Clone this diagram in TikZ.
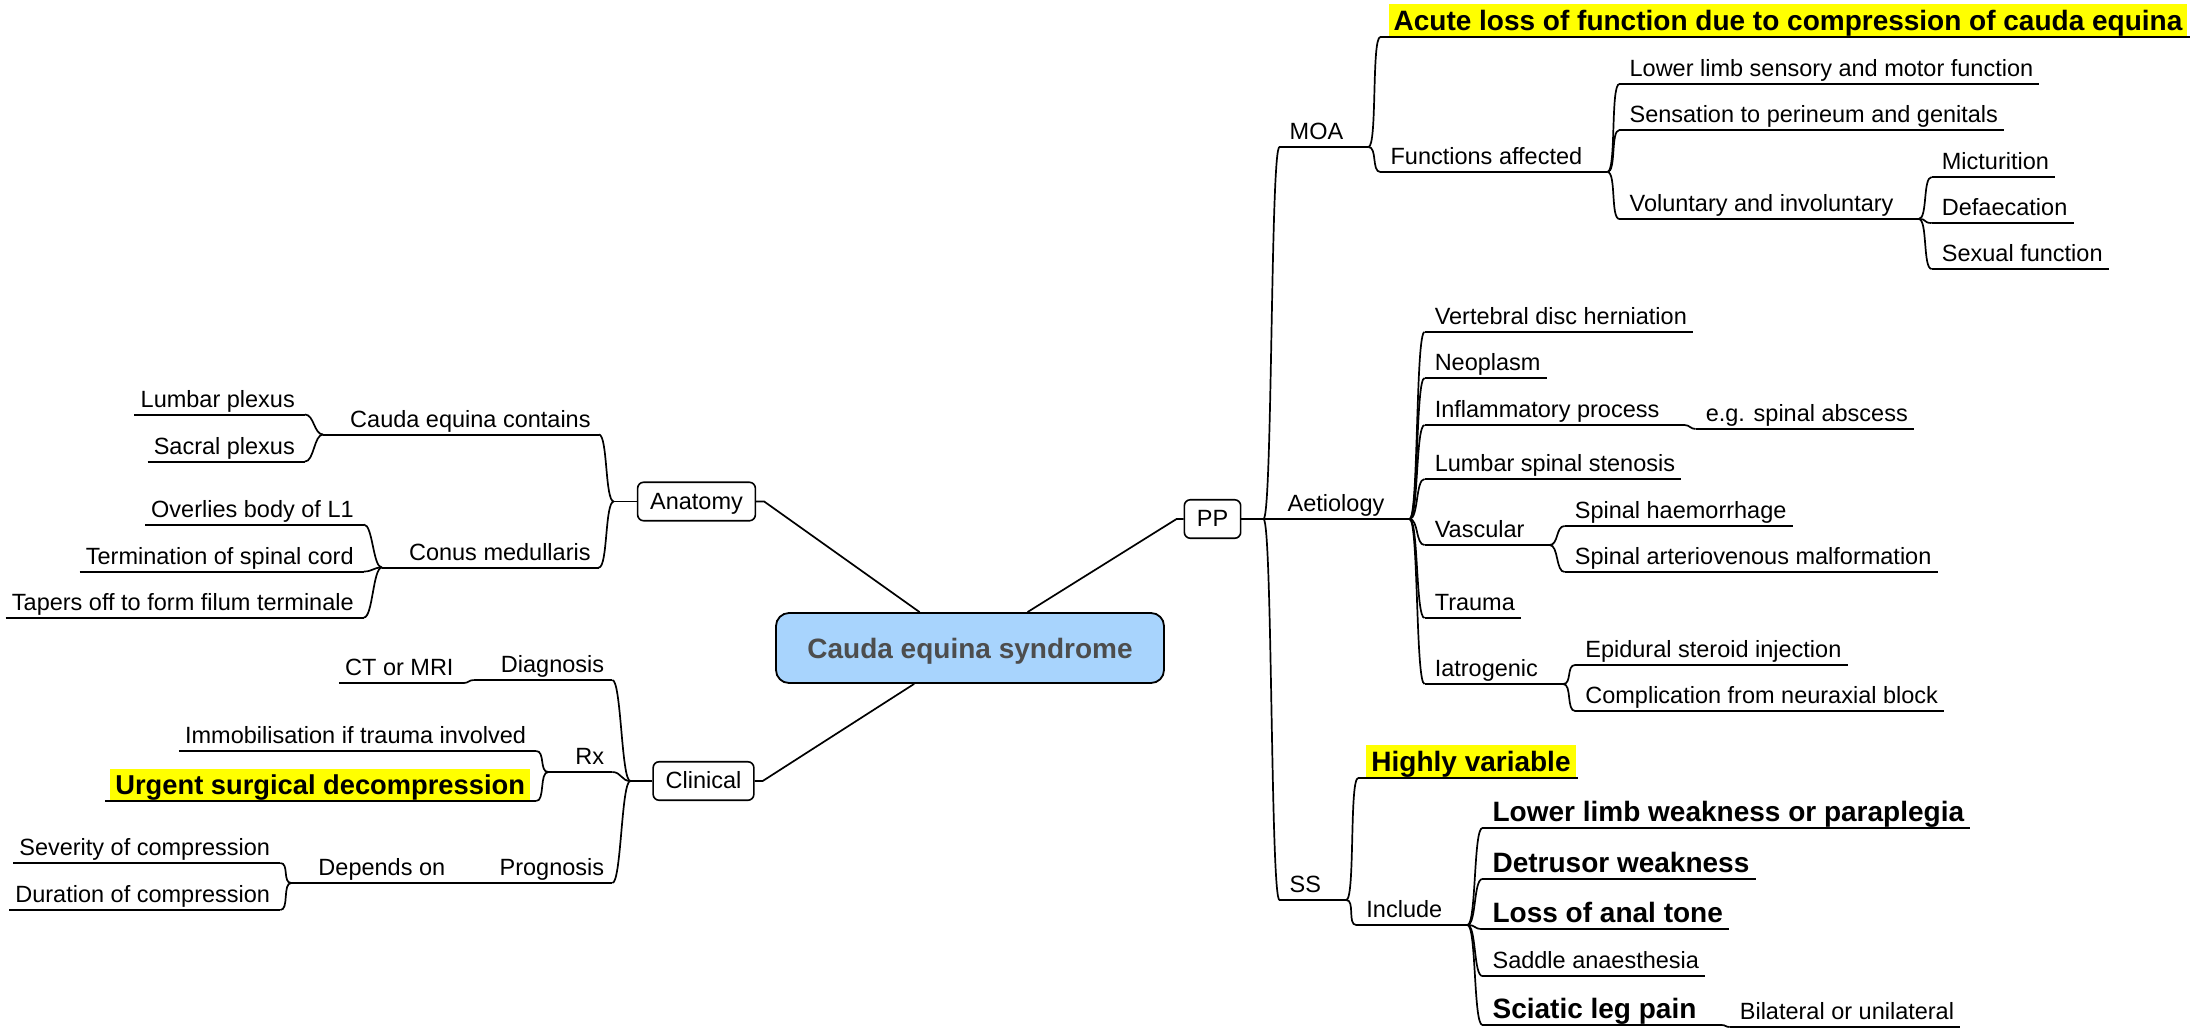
\documentclass[tikz,border=0pt]{standalone}
\usepackage{fontspec}
\setmainfont{Liberation Sans}
\usetikzlibrary{calc}
\definecolor{rootfill}{HTML}{A8D4FD}
\definecolor{roottext}{HTML}{4D4D4D}
\definecolor{hlyellow}{HTML}{FFFF00}
% yellow marker behind a label
\newcommand\hlbox[1]{{\setlength{\fboxsep}{0pt}\colorbox{hlyellow}{\hspace*{5pt}\rule[-0.2em]{0pt}{1.13em}#1\hspace*{5pt}}}}
\tikzset{
  lbl/.style={inner sep=0pt, font=\fontsize{23.5pt}{28pt}\selectfont, text height=17pt, text depth=7pt},
  big/.style={font=\fontsize{28pt}{33pt}\selectfont\bfseries, text height=20.5pt, text depth=6.5pt},
  rleaf/.style={lbl, anchor=south west, execute at begin node=\hspace*{10pt}, execute at end node=\hspace*{6pt}},
  rpar/.style={lbl, anchor=south west, execute at begin node=\hspace*{10pt}, execute at end node=\hspace*{25pt}},
  rhl/.style={lbl, big, anchor=south west, execute at begin node=\hspace*{8pt}, execute at end node=\hspace*{2pt}},
  lleaf/.style={lbl, anchor=south east, execute at begin node=\hspace*{6pt}, execute at end node=\hspace*{10pt}},
  lpar/.style={lbl, anchor=south east, execute at begin node=\hspace*{27pt}, execute at end node=\hspace*{8pt}},
  lhl/.style={lbl, big, font=\fontsize{27.3pt}{33pt}\selectfont\bfseries, anchor=south east,
    execute at begin node=\hspace*{5pt}, execute at end node=\hspace*{6pt}},
  box/.style={draw, fill=white, rounded corners=6pt, line width=1.6pt, inner xsep=12.5pt, inner ysep=0pt,
    minimum height=38.5pt, font=\fontsize{23.5pt}{28pt}\selectfont, text height=17pt, text depth=2pt},
  rootbox/.style={draw, fill=rootfill, rounded corners=13pt, line width=1.8pt, minimum width=388pt,
    minimum height=70pt, inner sep=0pt, font=\fontsize{28pt}{33pt}\selectfont\bfseries, text=roottext,
    text height=20pt, text depth=0pt},
  conn/.style={line width=1.7pt},
  uline/.style={line width=2pt},
  rc/.style={out=0, in=180, distance=#1}, rc/.default=9pt,
  lc/.style={out=180, in=0, distance=#1}, lc/.default=9pt,
}
\begin{document}
\begin{tikzpicture}[x=1pt, y=-1pt]
\useasboundingbox (0,0) rectangle (2193,1029);

% central topic and the three main boxes
\node[rootbox] (root) at (970,648) {Cauda equina syndrome};
\node[box] (anat) at (696.5,501.5) {Anatomy};
\node[box] (clin) at (703.5,781) {Clinical};
\node[box] (pp) at (1212.5,519) {PP};

\coordinate (ka) at ($(anat.east)+(8,0)$);
\coordinate (kc) at ($(clin.east)+(8,0)$);
\coordinate (kp) at ($(pp.west)+(-7,0)$);
\draw[conn] (root) -- (ka) -- (anat.east);
\draw[conn] (root) -- (kc) -- (clin.east);
\draw[conn] (root) -- (kp) -- (pp.west);

% ---------- PP ----------
\coordinate (jp) at ($(pp.east)+(22,0)$);
\node[rpar] (aet) at ($(jp)+(14,0)$) {Aetiology};
\node[rpar] (moa) at ($(jp)+(16,-372)$) {MOA};
\node[rpar] (ss) at ($(jp)+(16,381)$) {SS};

% MOA
\node[rhl] (acute) at ($(moa.south east)+(12,-110)$) {\hlbox{Acute loss of function due to compression of cauda equina}};
\node[rpar] (fa) at ($(moa.south east)+(12,25)$) {Functions affected};
\node[rleaf] (llsm) at ($(fa.south east)+(12,-88)$) {Lower limb sensory and motor function};
\node[rleaf] (sens) at ($(fa.south east)+(12,-42)$) {Sensation to perineum and genitals};
\node[rpar] (vol) at ($(fa.south east)+(12,47)$) {Voluntary and involuntary};
\node[rleaf] (mict) at ($(vol.south east)+(13,-42)$) {Micturition};
\node[rleaf] (defa) at ($(vol.south east)+(13,4)$) {Defaecation};
\node[rleaf] (sexf) at ($(vol.south east)+(13,50)$) {Sexual function};

% Aetiology
\node[rleaf] (vdh) at ($(aet.south east)+(15,-187)$) {Vertebral disc herniation};
\node[rleaf] (neo) at ($(aet.south east)+(15,-141)$) {Neoplasm};
\node[rpar] (infl) at ($(aet.south east)+(15,-94)$) {Inflammatory process};
\node[rleaf] (abs) at ($(infl.south east)+(11,4)$) {e.g. spinal abscess};
\node[rleaf] (lss) at ($(aet.south east)+(15,-40)$) {Lumbar spinal stenosis};
\node[rpar] (vasc) at ($(aet.south east)+(15,26)$) {Vascular};
\node[rleaf] (haem) at ($(vasc.south east)+(15,-19)$) {Spinal haemorrhage};
\node[rleaf] (avm) at ($(vasc.south east)+(15,27)$) {Spinal arteriovenous malformation};
\node[rleaf] (trau) at ($(aet.south east)+(15,99)$) {Trauma};
\node[rpar] (iatr) at ($(aet.south east)+(15,165)$) {Iatrogenic};
\node[rleaf] (epid) at ($(iatr.south east)+(12,-19)$) {Epidural steroid injection};
\node[rleaf] (comp) at ($(iatr.south east)+(12,27)$) {Complication from neuraxial block};

% SS
\node[rhl] (hv) at ($(ss.south east)+(12,-122)$) {\hlbox{Highly variable}};
\node[rpar] (incl) at ($(ss.south east)+(10,25)$) {Include};
\node[rleaf,big] (llw) at ($(incl.south east)+(15,-97)$) {Lower limb weakness or paraplegia};
\node[rleaf,big] (detr) at ($(incl.south east)+(15,-46)$) {Detrusor weakness};
\node[rleaf,big] (anal) at ($(incl.south east)+(15,4)$) {Loss of anal tone};
\node[rleaf] (sadd) at ($(incl.south east)+(15,51)$) {Saddle anaesthesia};
\node[rpar,big] (sci) at ($(incl.south east)+(15,100)$) {Sciatic leg pain};
\node[rleaf] (bil) at ($(sci.south east)+(8,2)$) {Bilateral or unilateral};

% ---------- Anatomy ----------
\coordinate (ja) at ($(anat.west)+(-23,0)$);
\node[lpar] (cec) at ($(ja)+(-15,-67)$) {Cauda equina contains};
\node[lpar] (cm) at ($(ja)+(-15,66)$) {Conus medullaris};
\node[lleaf] (lum) at ($(cec.south west)+(-18,-20)$) {Lumbar plexus};
\node[lleaf] (sac) at ($(cec.south west)+(-18,27)$) {Sacral plexus};
\node[lleaf] (ovl) at ($(cm.south west)+(-18,-43)$) {Overlies body of L1};
\node[lleaf] (term) at ($(cm.south west)+(-18,4)$) {Termination of spinal cord};
\node[lleaf] (tap) at ($(cm.south west)+(-18,50)$) {Tapers off to form filum terminale};

% ---------- Clinical ----------
\coordinate (jc) at ($(clin.west)+(-22,0)$);
\node[lpar] (diag) at ($(jc)+(-18,-101)$) {Diagnosis};
\node[lpar] (rx) at ($(jc)+(-18,-9)$) {Rx};
\node[lpar] (prog) at ($(jc)+(-18,102)$) {Prognosis};
\node[lleaf] (ct) at ($(diag.south west)+(-10,3)$) {CT or MRI};
\node[lleaf] (imm) at ($(rx.south west)+(-12,-21)$) {Immobilisation if trauma involved};
\node[lhl] (urg) at ($(rx.south west)+(-12,29)$) {\hlbox{Urgent surgical decompression}};
\node[lpar] (dep) at ($(prog.south west)+(-19,0)$) {Depends on};
\node[lleaf] (sev) at ($(dep.south west)+(-11,-20)$) {Severity of compression};
\node[lleaf] (dur) at ($(dep.south west)+(-11,27)$) {Duration of compression};

% underlines of all branch labels
\foreach \n in {aet,moa,ss,acute,fa,llsm,sens,vol,mict,defa,sexf,vdh,neo,infl,abs,lss,vasc,haem,avm,trau,iatr,epid,comp,hv,incl,llw,detr,anal,sadd,sci,bil,cec,cm,lum,sac,ovl,term,tap,diag,rx,prog,ct,imm,urg,dep,sev,dur}
  \draw[uline] (\n.south west) -- (\n.south east);

% connectors on the right
\draw[conn] (pp.east) -- (jp) -- (aet.south west);
\draw[conn] (jp) to[rc] (moa.south west);
\draw[conn] (jp) to[rc] (ss.south west);
\foreach \c in {acute,fa} \draw[conn] (moa.south east) to[rc] (\c.south west);
\foreach \c in {llsm,sens,vol} \draw[conn] (fa.south east) to[rc] (\c.south west);
\foreach \c in {mict,defa,sexf} \draw[conn] (vol.south east) to[rc] (\c.south west);
\foreach \c in {vdh,neo,infl,lss,vasc,trau,iatr} \draw[conn] (aet.south east) to[rc] (\c.south west);
\draw[conn] (infl.south east) to[rc=5pt] (abs.south west);
\foreach \c in {haem,avm} \draw[conn] (vasc.south east) to[rc] (\c.south west);
\foreach \c in {epid,comp} \draw[conn] (iatr.south east) to[rc] (\c.south west);
\foreach \c in {hv,incl} \draw[conn] (ss.south east) to[rc] (\c.south west);
\foreach \c in {llw,detr,anal,sadd,sci} \draw[conn] (incl.south east) to[rc] (\c.south west);
\draw[conn] (sci.south east) to[rc=4pt] (bil.south west);

% connectors on the left
\draw[conn] (anat.west) -- (ja);
\draw[conn] (ja) to[lc] (cec.south east);
\draw[conn] (ja) to[lc] (cm.south east);
\foreach \c in {lum,sac} \draw[conn] (cec.south west) to[lc] (\c.south east);
\foreach \c in {ovl,term,tap} \draw[conn] (cm.south west) to[lc] (\c.south east);
\draw[conn] (clin.west) -- (jc);
\foreach \c in {diag,rx,prog} \draw[conn] (jc) to[lc] (\c.south east);
\draw[conn] (diag.south west) to[lc=5pt] (ct.south east);
\foreach \c in {imm,urg} \draw[conn] (rx.south west) to[lc] (\c.south east);
\draw[conn] (prog.south west) -- (dep.south east);
\foreach \c in {sev,dur} \draw[conn] (dep.south west) to[lc] (\c.south east);
\end{tikzpicture}
\end{document}
